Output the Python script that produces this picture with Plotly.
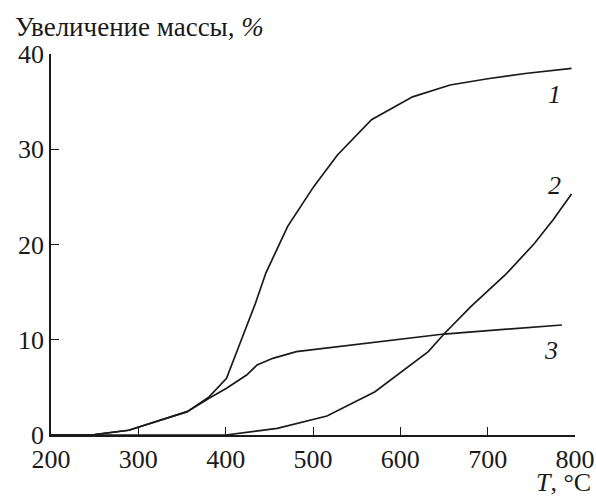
import plotly.graph_objects as go

# Data
t1 = [200, 250, 289, 328, 356, 381, 401, 418, 434, 446, 471, 501, 528, 567, 614, 657, 700, 743, 796]
v1 = [0, 0.05, 0.5, 1.6, 2.45, 4.0, 5.95, 10.0, 13.8, 17.0, 21.9, 26.1, 29.4, 33.1, 35.5, 36.75, 37.4, 37.95, 38.5]

t2 = [200, 300, 400, 459, 516, 571, 632, 650, 681, 720, 753, 775, 796]
v2 = [0, 0, 0, 0.7, 2.0, 4.55, 8.75, 10.6, 13.5, 16.8, 20.05, 22.6, 25.3]

t3 = [200, 250, 289, 328, 356, 381, 401, 424, 436, 454, 481, 650, 785]
v3 = [0, 0.05, 0.5, 1.6, 2.45, 3.85, 4.9, 6.3, 7.35, 8.05, 8.75, 10.6, 11.55]

curve_labels = ["1", "2", "3"]
label_x = [777, 777, 773]
label_y = [35.7, 26.2, 8.9]

x_ticks = [200, 300, 400, 500, 600, 700, 800]
y_ticks = [0, 10, 20, 30, 40]

FONT = "Liberation Serif"
FS = 26

fig = go.Figure()
for tx, vy in [(t1, v1), (t2, v2), (t3, v3)]:
    fig.add_trace(go.Scatter(x=tx, y=vy, mode="lines",
                             line=dict(color="#1a1a1a", width=1.7),
                             showlegend=False, hoverinfo="skip"))

for lab, lx, ly in zip(curve_labels, label_x, label_y):
    fig.add_annotation(x=lx, y=ly, xref="x", yref="y", text=f"<i>{lab}</i>",
                       showarrow=False, font=dict(family=FONT, size=FS, color="#1a1a1a"))

fig.add_annotation(xref="paper", yref="paper", x=-0.0725, y=1.072, xanchor="left", yanchor="middle",
                   text="Увеличение массы, <i>%</i>", showarrow=False,
                   font=dict(family=FONT, size=27, color="#1a1a1a"))
fig.add_annotation(xref="paper", yref="paper", x=1.034, y=-0.124, xanchor="right", yanchor="middle",
                   text="<i>T</i>, °C", showarrow=False,
                   font=dict(family=FONT, size=FS, color="#1a1a1a"))

axis_common = dict(showgrid=False, zeroline=False, showline=True, linecolor="#1a1a1a", linewidth=1.5,
                   ticks="inside", ticklen=8, tickwidth=1.2, tickcolor="#1a1a1a", automargin=False,
                   tickfont=dict(family=FONT, size=FS, color="#1a1a1a"))

fig.update_xaxes(range=[200, 800], tickvals=x_ticks, **axis_common)
fig.update_yaxes(range=[0, 40], tickvals=y_ticks, **axis_common)

fig.update_layout(width=596, height=497, margin=dict(l=51, r=21, t=54, b=62),
                  plot_bgcolor="white", paper_bgcolor="white")

fig.write_html("out.html")
